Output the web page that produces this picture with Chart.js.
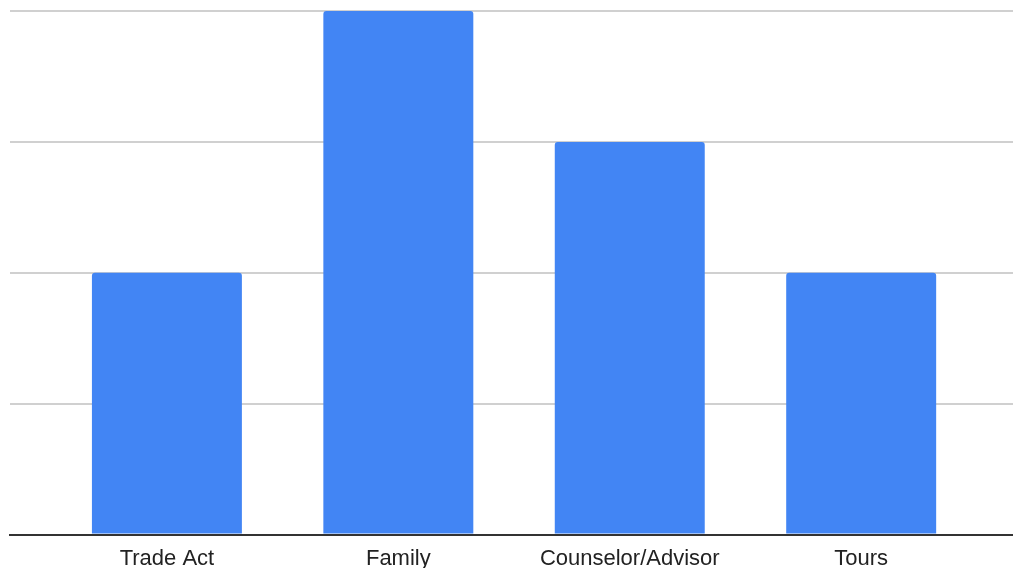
<!DOCTYPE html>
<html>
<head>
<meta charset="utf-8">
<script src="https://cdn.jsdelivr.net/npm/chart.js@4"></script>
<style>
  html, body { margin: 0; padding: 0; background: #fff; }
  #wrap { width: 1013px; height: 568px; }
</style>
</head>
<body>
<div id="wrap"><canvas id="chartSources"></canvas></div>
<script>
const categories = ['Trade Act', 'Family', 'Counselor/Advisor', 'Tours']
const counts = [2, 4, 3, 2]
const yTicks = [0, 1, 2, 3, 4]

// bars sit on numeric positions so the plot can run past the outer bars
const points = []
for (var i = 0; i < categories.length; i++) {
  points.push({x: i, y: counts[i]})
}

new Chart(document.getElementById('chartSources'), {
  type: 'bar',
  data: {
    datasets: [{
      data: points,
      backgroundColor: '#4285F4',
      borderRadius: {topLeft: 3, topRight: 3},
      borderSkipped: 'bottom',
      barPercentage: 1,
      categoryPercentage: 0.648
    }]
  },
  options: {
    responsive: true,
    maintainAspectRatio: false,
    animation: false,
    layout: {padding: {left: 10, right: 0, top: 11, bottom: -15}},
    plugins: {legend: {display: false}, tooltip: {enabled: false}},
    scales: {
      x: {
        type: 'linear',
        offset: false,
        min: -0.678,
        max: 3.656,
        afterBuildTicks: (scale) => {
          scale.ticks = categories.map((c, i) => ({value: i}))
        },
        grid: {display: false, drawTicks: false},
        border: {display: true, color: '#333333', width: 2},
        ticks: {
          color: '#222222',
          padding: 11,
          autoSkip: false,
          maxRotation: 0,
          font: {family: 'Arial, "Liberation Sans", sans-serif', size: 22},
          callback: (v) => categories[v]
        }
      },
      y: {
        min: yTicks[0],
        max: yTicks[yTicks.length - 1],
        afterBuildTicks: (scale) => {
          scale.ticks = yTicks.map(v => ({value: v}))
        },
        grid: {color: '#d0d0d0', lineWidth: 2, drawTicks: false},
        border: {display: false},
        ticks: {display: false}
      }
    }
  }
});
</script>
</body>
</html>
